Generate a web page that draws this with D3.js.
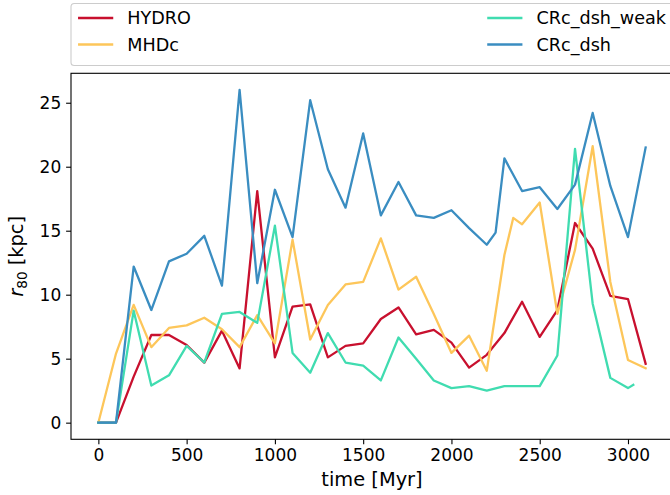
<!DOCTYPE html>
<html><head><meta charset="utf-8">
<script src="https://cdn.jsdelivr.net/npm/d3@7"></script>
<style>body{margin:0;background:#fff}svg{display:block;font-family:"DejaVu Sans",sans-serif}</style>
</head><body><svg id="c" width="670" height="495"></svg>
<script>
// ---- data ----
const timeHYDRO = [0,100,200,300,400,500,600,700,800,900,1000,1100,1200,1300,1400,1500,1600,1700,1800,1900,2000,2100,2200,2300,2400,2500,2600,2700,2800,2900,3000,3100];
const r80HYDRO  = [0,0,3.6,6.85,6.85,6.07,4.69,7.19,4.24,18.1,5.1,9.06,9.24,5.1,6.0,6.2,8.1,9.0,6.9,7.25,6.25,4.3,5.3,7.0,9.45,6.7,8.8,15.6,13.6,9.9,9.66,4.6];

const timeMHDc = [0,100,200,300,400,500,600,700,800,900,1000,1100,1200,1300,1400,1500,1600,1700,1800,1900,2000,2100,2200,2300,2350,2400,2500,2600,2700,2800,2900,3000,3100];
const r80MHDc  = [0,5.4,9.2,5.9,7.4,7.6,8.2,7.3,5.9,8.4,6.2,14.3,6.5,9.2,10.8,11.0,14.4,10.4,11.4,8.5,5.45,6.8,4.05,13.1,16.0,15.5,17.2,8.5,13.5,21.6,11.0,4.9,4.25];

const timeWeak = [0,100,200,300,400,500,600,700,800,900,1000,1100,1200,1300,1400,1500,1600,1700,1800,1900,2000,2100,2200,2300,2400,2500,2600,2700,2800,2900,3000,3030];
const r80Weak  = [0,0,8.75,2.9,3.7,6.0,4.7,8.5,8.65,7.8,15.4,5.45,3.9,7.0,4.7,4.45,3.3,6.65,5.0,3.3,2.7,2.85,2.5,2.85,2.85,2.85,5.25,21.4,9.3,3.5,2.7,2.95];

const timeDsh = [0,100,200,300,400,500,600,700,800,900,1000,1100,1200,1300,1400,1500,1600,1700,1800,1900,2000,2100,2200,2250,2300,2400,2500,2600,2700,2800,2900,3000,3100];
const r80Dsh  = [0,0,12.2,8.8,12.6,13.2,14.6,10.7,26.0,10.9,18.2,14.5,25.2,19.8,16.8,22.6,16.2,18.8,16.2,16.0,16.6,15.2,13.9,14.85,20.65,18.1,18.4,16.7,18.6,24.2,18.5,14.5,21.5];

const seriesNames  = ["HYDRO","MHDc","CRc_dsh_weak","CRc_dsh"];
const seriesColors = ["#c8102e","#fdc65a","#40dcb0","#3a8dc1"];
const xTickValues = [0,500,1000,1500,2000,2500,3000];
const yTickValues = [0,5,10,15,20,25];

const series = [
  {name: seriesNames[0], color: seriesColors[0], t: timeHYDRO, v: r80HYDRO},
  {name: seriesNames[1], color: seriesColors[1], t: timeMHDc,  v: r80MHDc},
  {name: seriesNames[2], color: seriesColors[2], t: timeWeak,  v: r80Weak},
  {name: seriesNames[3], color: seriesColors[3], t: timeDsh,   v: r80Dsh}
];

// ---- layout ----
const L = 71, R = 673, T = 73.3, B = 439.3;
const FS_TICK = 17, FS_LAB = 19.4, FS_LEG = 17.6;
const svg = d3.select("#c");
const x = d3.scaleLinear().domain([-155, 3255]).range([L, R]);
const y = d3.scaleLinear().domain([-1.3, 27.3]).range([B, T]);

// lines
const line = d3.line().x(d => x(d[0])).y(d => y(d[1]));
const gLines = svg.append("g");
series.forEach(s => {
  gLines.append("path")
    .datum(s.t.map((t, i) => [t, s.v[i]]))
    .attr("d", line)
    .attr("fill", "none")
    .attr("stroke", s.color)
    .attr("stroke-width", 2.3)
    .attr("stroke-linejoin", "round")
    .attr("stroke-linecap", "square");
});

// axes
const xAxis = svg.append("g").attr("transform", `translate(0,${B})`)
  .call(d3.axisBottom(x).tickValues(xTickValues).tickSize(4.9).tickPadding(4.9).tickFormat(d3.format("d")));
const yAxis = svg.append("g").attr("transform", `translate(${L},0)`)
  .call(d3.axisLeft(y).tickValues(yTickValues).tickSize(4.9).tickPadding(4.9).tickFormat(d3.format("d")));
[xAxis, yAxis].forEach(g => {
  g.select(".domain").remove();
  g.selectAll("line").attr("stroke", "#000").attr("stroke-width", 1.1);
  g.selectAll("text").attr("fill", "#000").style("font-size", FS_TICK + "px").style("font-family", "DejaVu Sans");
});

// spines
svg.append("rect").attr("x", L).attr("y", T).attr("width", R - L).attr("height", B - T)
  .attr("fill", "none").attr("stroke", "#000").attr("stroke-width", 1.1);

// axis labels
svg.append("text").attr("x", (L + R) / 2).attr("y", 486).attr("text-anchor", "middle")
  .style("font-size", FS_LAB + "px").text("time [Myr]");
const yl = svg.append("text").attr("transform", `translate(22.5,${(T + B) / 2}) rotate(-90)`)
  .attr("text-anchor", "middle").style("font-size", FS_LAB + "px");
yl.append("tspan").style("font-style", "italic").text("r");
yl.append("tspan").attr("dy", 4).style("font-size", (FS_LAB * 0.7) + "px").text("80");
yl.append("tspan").attr("dy", -4).text("\u00a0[kpc]");

// legend
const lg = svg.append("g");
lg.append("rect").attr("x", 71).attr("y", 3.5).attr("width", 602).attr("height", 62).attr("rx", 3.3)
  .attr("fill", "#fff").attr("fill-opacity", 0.8).attr("stroke", "#cccccc").attr("stroke-width", 1.1);
const handleLen = 2 * FS_LEG, handlePad = 0.8 * FS_LEG, borderPad = 0.4 * FS_LEG;
const tmp = lg.append("text").style("font-size", FS_LEG + "px").text(seriesNames[2]);
const w2 = tmp.node().getComputedTextLength(); tmp.remove();
const colX = [71 + borderPad, 673 - borderPad - w2 - handlePad - handleLen];
const rowY = [18, 44.5];
series.forEach((s, i) => {
  const cx = colX[Math.floor(i / 2)], cy = rowY[i % 2];
  lg.append("line").attr("x1", cx).attr("x2", cx + handleLen).attr("y1", cy).attr("y2", cy)
    .attr("stroke", s.color).attr("stroke-width", 2.3);
  lg.append("text").attr("x", cx + handleLen + handlePad).attr("y", cy + 6.3)
    .style("font-size", FS_LEG + "px").attr("fill", "#000").text(s.name);
});
</script></body></html>
